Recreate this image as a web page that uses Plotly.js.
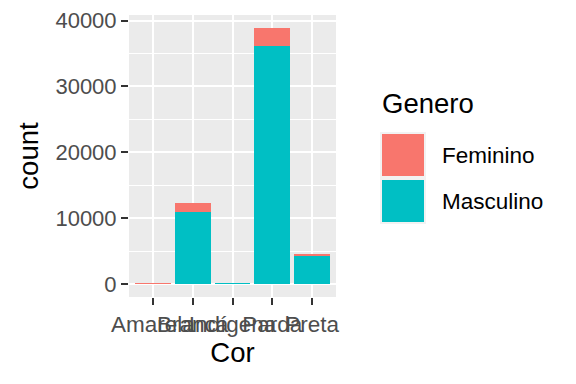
<!DOCTYPE html>
<html>
<head>
<meta charset="utf-8">
<script src="https://cdn.plot.ly/plotly-3.0.1.min.js"></script>
<style>html,body{margin:0;padding:0;background:#fff;}#chart{width:576px;height:384px;}</style>
</head>
<body>
<div id="chart"></div>
<script>
// Data
var categories = ["Amarela", "Branca", "Indígena", "Parda", "Preta"];
var masculino = [40, 10980, 160, 36070, 4310];
var feminino = [150, 1320, 20, 2830, 300];
var seriesNames = ["Feminino", "Masculino"];
var yTickVals = [0, 10000, 20000, 30000, 40000];
var yTickText = ["0", "10000", "20000", "30000", "40000"];

var colFem = '#F8766D', colMasc = '#00BFC4';

// layout geometry (pixels)
var W = 576, H = 384, L = 129, R = 336, T = 15, B = 297;
function px(x){ return (x - L) / (R - L); }
function py(y){ return (B - y) / (B - T); }

var totals = masculino.map(function(v, i){ return v + feminino[i]; });
var maxTot = Math.max.apply(null, totals);
var pad = maxTot * 0.05;

var traces = [
  {type:'bar', x:categories, y:masculino, name:seriesNames[1], marker:{color:colMasc, line:{width:0}}, showlegend:false, hoverinfo:'none'},
  {type:'bar', x:categories, y:feminino, name:seriesNames[0], marker:{color:colFem, line:{width:0}}, showlegend:false, hoverinfo:'none'}
];

var shapes = [
  // legend key backgrounds
  {type:'rect', xref:'paper', yref:'paper', x0:px(380), x1:px(426), y0:py(132), y1:py(224), fillcolor:'#F2F2F2', line:{width:0}, layer:'above'},
  {type:'rect', xref:'paper', yref:'paper', x0:px(382), x1:px(424), y0:py(134), y1:py(176), fillcolor:colFem, line:{width:0}, layer:'above'},
  {type:'rect', xref:'paper', yref:'paper', x0:px(382), x1:px(424), y0:py(180), y1:py(222), fillcolor:colMasc, line:{width:0}, layer:'above'}
];

var fontFam = 'Liberation Sans, Arial, sans-serif';
var annotations = [
  {xref:'paper', yref:'paper', x:px(380), y:py(103), xanchor:'left', yanchor:'middle', text:'Genero', showarrow:false, font:{family:fontFam, size:27.5, color:'#000'}},
  {xref:'paper', yref:'paper', x:px(440), y:py(155), xanchor:'left', yanchor:'middle', text:seriesNames[0], showarrow:false, font:{family:fontFam, size:22.5, color:'#000'}},
  {xref:'paper', yref:'paper', x:px(440), y:py(201), xanchor:'left', yanchor:'middle', text:seriesNames[1], showarrow:false, font:{family:fontFam, size:22.5, color:'#000'}}
];

var layout = {
  width:W, height:H,
  margin:{l:L, r:W-R, t:T, b:H-B, pad:0},
  paper_bgcolor:'#ffffff', plot_bgcolor:'#EBEBEB',
  barmode:'stack', bargap:0.1,
  showlegend:false,
  font:{family:fontFam},
  xaxis:{
    type:'category', range:[-0.6, 4.6], tickangle:0,
    showgrid:true, gridcolor:'#ffffff', gridwidth:2, zeroline:false, showline:false,
    ticks:'outside', ticklen:7, tickwidth:2, tickcolor:'#333333',
    tickfont:{family:fontFam, size:22.5, color:'#4D4D4D'},
    title:{text:'Cor', font:{family:fontFam, size:27.5, color:'#000'}, standoff:4}
  },
  yaxis:{
    range:[-pad, maxTot + pad],
    tickvals:yTickVals, ticktext:yTickText,
    showgrid:true, gridcolor:'#ffffff', gridwidth:2, zeroline:false, showline:false,
    minor:{showgrid:true, gridcolor:'#ffffff', gridwidth:1, dtick:5000, tick0:0, ticks:''},
    ticks:'outside', ticklen:7, tickwidth:2, tickcolor:'#333333',
    tickfont:{family:fontFam, size:22, color:'#4D4D4D'},
    title:{text:'count', font:{family:fontFam, size:27.5, color:'#000'}, standoff:8}
  },
  shapes:shapes,
  annotations:annotations
};

Plotly.newPlot('chart', traces, layout, {displayModeBar:false, staticPlot:true});
</script>
</body>
</html>
